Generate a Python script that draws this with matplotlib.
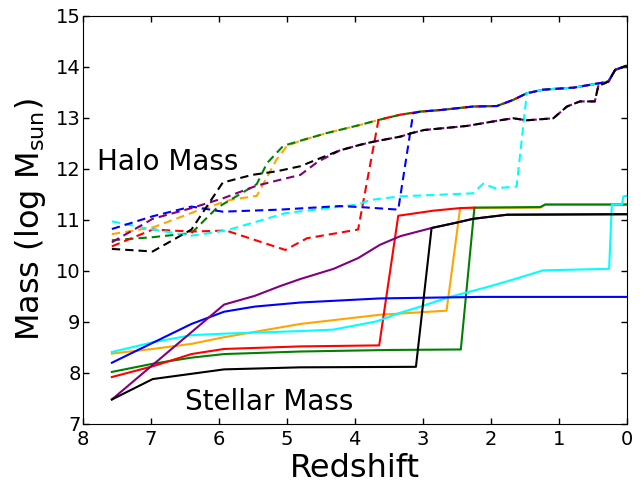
import matplotlib
matplotlib.use('Agg')
import matplotlib.pyplot as plt

# stellar mass tracks (redshift, log mass)
blue_star_z = [7.57, 6.40, 5.92, 5.47, 4.80, 3.63, 2.16, 0.0]
blue_star_m = [8.20, 8.96, 9.20, 9.30, 9.38, 9.46, 9.49, 9.49]

green_star_z = [7.57, 6.97, 6.40, 5.92, 4.80, 3.50, 2.44, 2.24, 1.27, 1.20, 0.0]
green_star_m = [8.02, 8.18, 8.30, 8.37, 8.42, 8.45, 8.46, 11.24, 11.25, 11.30, 11.30]

red_star_z = [7.57, 6.97, 6.40, 5.92, 4.80, 3.64, 3.36, 2.84, 2.45, 2.24]
red_star_m = [7.92, 8.13, 8.37, 8.47, 8.52, 8.54, 11.08, 11.18, 11.23, 11.24]

orange_star_z = [7.57, 6.97, 6.40, 5.92, 4.80, 3.63, 2.65, 2.45, 1.27, 1.20, 0.0]
orange_star_m = [8.38, 8.47, 8.57, 8.70, 8.96, 9.14, 9.22, 11.23, 11.24, 11.30, 11.30]

cyan_star_z = [7.57, 6.97, 6.40, 5.92, 4.80, 4.31, 3.68, 3.33, 3.01, 2.60, 2.06,
               1.67, 1.23, 0.26, 0.22, 0.07, 0.05, 0.0]
cyan_star_m = [8.41, 8.60, 8.74, 8.77, 8.82, 8.85, 9.01, 9.18, 9.31, 9.49, 9.68,
               9.83, 10.01, 10.04, 11.30, 11.30, 11.46, 11.47]

purple_star_z = [7.57, 5.92, 5.47, 5.10, 4.80, 4.31, 3.95, 3.63, 3.33, 2.87, 2.52,
                 2.26, 1.76, 0.0]
purple_star_m = [7.48, 9.34, 9.51, 9.70, 9.84, 10.04, 10.25, 10.51, 10.68, 10.84, 10.94,
                 11.02, 11.10, 11.11]

black_star_z = [7.57, 6.97, 5.92, 4.80, 3.10, 2.87, 2.52, 2.26, 1.76, 0.0]
black_star_m = [7.48, 7.88, 8.07, 8.11, 8.12, 10.84, 10.94, 11.02, 11.10, 11.11]

# halo mass tracks: early parts, then they join one of two main branches
top_branch_z = [4.80, 4.41, 3.92, 3.67, 3.33, 3.04, 2.75, 2.26, 1.91, 1.67, 1.47,
                1.23, 0.78, 0.39, 0.27, 0.17, 0.0]
top_branch_m = [12.55, 12.70, 12.86, 12.95, 13.06, 13.12, 13.15, 13.22, 13.23, 13.35, 13.48,
                13.55, 13.59, 13.68, 13.71, 13.94, 14.02]

low_branch_z = [4.22, 3.92, 3.73, 3.33, 3.16, 2.98, 2.35, 1.82, 1.67, 1.47, 1.08,
                0.88, 0.69, 0.47, 0.42, 0.27, 0.17, 0.0]
low_branch_m = [12.36, 12.47, 12.53, 12.63, 12.70, 12.76, 12.84, 12.96, 12.99, 12.95, 12.99,
                13.22, 13.32, 13.32, 13.62, 13.71, 13.94, 14.02]

blue_halo_z = [7.57, 6.97, 6.40, 5.94, 5.10, 4.22, 3.92, 3.36, 3.14]
blue_halo_m = [10.82, 11.07, 11.26, 11.16, 11.20, 11.27, 11.25, 11.20, 13.09]

green_halo_z = [7.57, 6.97, 6.40, 6.03, 5.44, 5.29, 5.05]
green_halo_m = [10.60, 10.66, 10.74, 11.23, 11.70, 12.11, 12.45]

red_halo_z = [7.57, 6.97, 6.40, 5.89, 5.02, 4.70, 3.95, 3.65]
red_halo_m = [10.48, 10.81, 10.77, 10.79, 10.41, 10.64, 10.81, 12.96]

orange_halo_z = [7.57, 6.97, 6.27, 5.83, 5.44, 5.15, 5.00]
orange_halo_m = [10.72, 10.85, 11.20, 11.39, 11.47, 12.18, 12.44]

cyan_halo_z = [7.57, 6.97, 6.40, 5.89, 5.02, 3.95, 3.77, 3.33, 2.26, 2.11, 1.94, 1.62]
cyan_halo_m = [10.97, 10.81, 10.69, 10.79, 11.13, 11.30, 11.39, 11.46, 11.52, 11.71, 11.62, 11.65]

purple_halo_z = [7.57, 6.97, 6.40, 5.94, 5.44, 5.05, 4.80, 4.54]
purple_halo_m = [10.56, 11.02, 11.23, 11.42, 11.67, 11.80, 11.88, 12.14]

black_halo_z = [7.57, 6.97, 6.40, 5.94, 5.51, 5.15, 4.80, 4.54]
black_halo_m = [10.43, 10.38, 10.81, 11.73, 11.88, 11.95, 12.05, 12.19]


def join(z, m, branch_z, branch_m):
    """Early track followed by the part of a branch at lower redshift."""
    z_out = list(z)
    m_out = list(m)
    for bz, bm in zip(branch_z, branch_m):
        if bz < z[-1]:
            z_out.append(bz)
            m_out.append(bm)
    return z_out, m_out


fig = plt.figure(figsize=(6.44, 4.84), dpi=100)
ax = fig.add_axes([0.1283, 0.124, 0.845, 0.8436])

lw = 1.5

# halo mass (dashed)
halo_tracks = [
    ('orange', orange_halo_z, orange_halo_m, 'top'),
    ('green', green_halo_z, green_halo_m, 'top'),
    ('red', red_halo_z, red_halo_m, 'top'),
    ('cyan', cyan_halo_z, cyan_halo_m, 'top'),
    ('blue', blue_halo_z, blue_halo_m, 'top'),
    ('purple', purple_halo_z, purple_halo_m, 'low'),
    ('black', black_halo_z, black_halo_m, 'low'),
]
for color, z, m, branch in halo_tracks:
    if branch == 'top':
        zz, mm = join(z, m, top_branch_z, top_branch_m)
    else:
        zz, mm = join(z, m, low_branch_z, low_branch_m)
    ax.plot(zz, mm, '--', color=color, lw=lw, dashes=(4, 2.4))

# stellar mass (solid)
star_tracks = [
    ('orange', orange_star_z, orange_star_m),
    ('green', green_star_z, green_star_m),
    ('red', red_star_z, red_star_m),
    ('cyan', cyan_star_z, cyan_star_m),
    ('blue', blue_star_z, blue_star_m),
    ('purple', purple_star_z, purple_star_m),
    ('black', black_star_z, black_star_m),
]
for color, z, m in star_tracks:
    ax.plot(z, m, '-', color=color, lw=lw)

ax.text(7.79, 11.98, 'Halo Mass', fontsize=20, va='baseline', ha='left')
ax.text(6.49, 7.28, 'Stellar Mass', fontsize=20, va='baseline', ha='left')

ax.set_xlim(8, 0)
ax.set_ylim(7, 15)
ax.set_xticks(range(8, -1, -1))
ax.set_yticks(range(7, 16))

ax.tick_params(direction='in', top=True, right=True, length=4, width=1,
               labelsize=14)
ax.tick_params(axis='x', pad=4.5)
ax.tick_params(axis='y', pad=1.5)

ax.set_xlabel('Redshift', fontsize=23)
ax.set_ylabel(r'Mass (log M$_{\rm sun}$)', fontsize=23)
ax.xaxis.set_label_coords(0.5, -0.072)
ax.yaxis.set_label_coords(-0.063, 0.5)

fig.savefig('out.png', dpi=100)
